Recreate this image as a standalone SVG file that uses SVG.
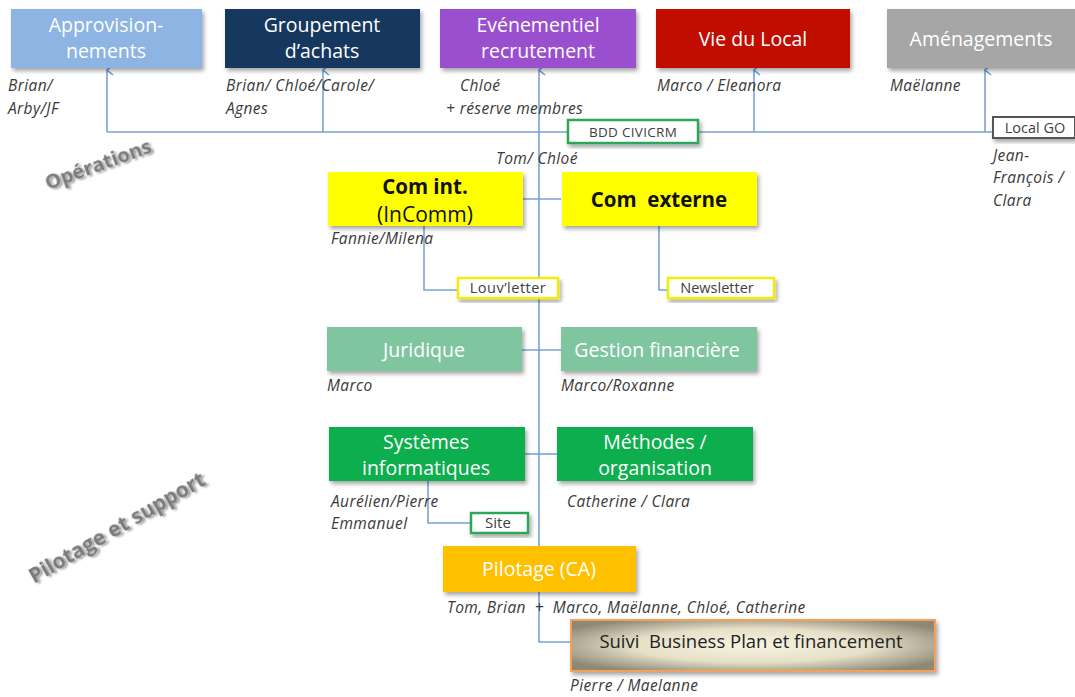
<svg xmlns="http://www.w3.org/2000/svg" width="1075" height="697" viewBox="0 0 1075 697">
<defs>
<filter id="sh" x="-10%" y="-10%" width="125%" height="135%">
<feGaussianBlur in="SourceAlpha" stdDeviation="2"/>
<feOffset dx="2" dy="3" result="b"/>
<feComponentTransfer><feFuncA type="linear" slope="0.35"/></feComponentTransfer>
<feMerge><feMergeNode/><feMergeNode in="SourceGraphic"/></feMerge>
</filter>
<filter id="tsh" x="-10%" y="-30%" width="130%" height="170%">
<feGaussianBlur in="SourceAlpha" stdDeviation="1.2"/>
<feOffset dx="1.5" dy="1.5"/>
<feComponentTransfer><feFuncA type="linear" slope="0.4"/></feComponentTransfer>
<feMerge><feMergeNode/><feMergeNode in="SourceGraphic"/></feMerge>
</filter>
<radialGradient id="gold" cx="50%" cy="50%" r="60%">
<stop offset="0" stop-color="#F8F4E2"/>
<stop offset="0.55" stop-color="#E6E0C8"/>
<stop offset="1" stop-color="#8E8876"/>
</radialGradient>
<marker id="arr" markerWidth="12" markerHeight="12" refX="6" refY="1" orient="auto-start-reverse" markerUnits="userSpaceOnUse" viewBox="0 0 12 12">
<path d="M1,7 L6,1 L11,7" fill="none" stroke="#6F9BD4" stroke-width="1.6"/>
</marker>
</defs>
<style>
.ln{fill:none;stroke:#7AA2D6;stroke-width:1.6}
.bt{font-family:"Open Sans","Liberation Sans",sans-serif;font-size:19.5px;fill:#fff;text-anchor:middle}
.lb{font-family:"Open Sans","Liberation Sans",sans-serif;font-size:15.5px;letter-spacing:0.4px;font-style:italic;fill:#3a3a3a}
.sm{font-family:"Open Sans","Liberation Sans",sans-serif;font-size:14.5px;fill:#404040;text-anchor:middle}
.bk{font-family:"Open Sans","Liberation Sans",sans-serif;font-size:20.5px;fill:#111;text-anchor:middle}
.sec{font-family:"Open Sans","Liberation Sans",sans-serif;font-size:20px;font-weight:bold;fill:#7a7a7a}
</style>
<rect width="1075" height="697" fill="#fff"/>

<g id="connectors">
<path class="ln" d="M107,132 H993"/>
<path class="ln" d="M107,132 V70" marker-end="url(#arr)"/>
<path class="ln" d="M323,132 V70" marker-end="url(#arr)"/>
<path class="ln" d="M754,132 V70" marker-end="url(#arr)"/>
<path class="ln" d="M985,132 V70" marker-end="url(#arr)"/>
<path class="ln" d="M571,642 H539 V70" marker-end="url(#arr)"/>
<path class="ln" d="M522,199 H561"/>
<path class="ln" d="M424,226 V290 H458"/>
<path class="ln" d="M659,226 V290 H668"/>
<path class="ln" d="M522,350 H561"/>
<path class="ln" d="M525,454 H557"/>
<path class="ln" d="M428,481 V523 H471"/>
</g>

<g id="approvisionnements">
<rect x="11" y="9" width="191" height="59" fill="#8DB4E2" filter="url(#sh)"/>
<text class="bt" x="106" y="32">Approvision-</text>
<text class="bt" x="106" y="58">nements</text>
<text class="lb" x="8" y="91">Brian/</text>
<text class="lb" x="8" y="114">Arby/JF</text>
</g>

<g id="groupement">
<rect x="225" y="9" width="195" height="59" fill="#17375E" filter="url(#sh)"/>
<text class="bt" x="322" y="32">Groupement</text>
<text class="bt" x="322" y="58">d’achats</text>
<text class="lb" x="226" y="91">Brian/ Chloé/Carole/</text>
<text class="lb" x="226" y="114">Agnes</text>
</g>

<g id="evenementiel">
<rect x="440" y="9" width="196" height="59" fill="#9A50CE" filter="url(#sh)"/>
<text class="bt" x="538" y="32">Evénementiel</text>
<text class="bt" x="538" y="58">recrutement</text>
<text class="lb" x="460" y="91">Chloé</text>
<text class="lb" x="446" y="114">+ réserve membres</text>
</g>

<g id="vie-du-local">
<rect x="656" y="9" width="194" height="59" fill="#C00F05" filter="url(#sh)"/>
<text class="bt" x="753" y="46">Vie du Local</text>
<text class="lb" x="657" y="91">Marco / Eleanora</text>
</g>

<g id="amenagements">
<rect x="887" y="9" width="190" height="59" fill="#A6A6A6" filter="url(#sh)"/>
<text class="bt" x="981" y="46">Aménagements</text>
<text class="lb" x="890" y="91">Maëlanne</text>
</g>

<g id="bdd-civicrm">
<rect x="568" y="120" width="130" height="23" fill="#fff" stroke="#2FA65A" stroke-width="2.5" filter="url(#sh)"/>
<text class="sm" x="633" y="137" style="font-size:13.5px;letter-spacing:0.3px">BDD CIVICRM</text>
</g>

<g id="local-go">
<rect x="993" y="117" width="82" height="21" fill="#fff" stroke="#555" stroke-width="2" filter="url(#sh)"/>
<text class="sm" x="1035" y="133">Local GO</text>
<text class="lb" x="993" y="161">Jean-</text>
<text class="lb" x="993" y="183">François /</text>
<text class="lb" x="993" y="206">Clara</text>
</g>

<text class="lb" x="496" y="164">Tom/ Chloé</text>

<g id="com-int">
<rect x="328" y="172" width="195" height="54" fill="#FFFF00" filter="url(#sh)"/>
<text class="bk" x="425" y="194" font-weight="bold">Com int.</text>
<text class="bk" x="425" y="222" style="font-size:21px">(InComm)</text>
<text class="lb" x="331" y="244">Fannie/Milena</text>
</g>

<g id="com-externe">
<rect x="562" y="172" width="195" height="54" fill="#FFFF00" filter="url(#sh)"/>
<text class="bk" x="659" y="207" font-weight="bold" xml:space="preserve">Com  externe</text>
</g>

<g id="louvletter">
<rect x="458" y="278" width="100" height="20" fill="#fff" stroke="#F2EC0A" stroke-width="2.5" filter="url(#sh)"/>
<text class="sm" x="508" y="293" style="letter-spacing:0.5px">Louv’letter</text>
</g>

<g id="newsletter">
<rect x="668" y="278" width="106" height="20" fill="#fff" stroke="#F2EC0A" stroke-width="2.5" filter="url(#sh)"/>
<text class="sm" x="717" y="293">Newsletter</text>
</g>

<g id="juridique">
<rect x="327" y="327" width="195" height="44" fill="#7FC6A0" filter="url(#sh)"/>
<text class="bt" x="424" y="357">Juridique</text>
<text class="lb" x="327" y="391">Marco</text>
</g>

<g id="gestion-financiere">
<rect x="561" y="327" width="196" height="44" fill="#7FC6A0" filter="url(#sh)"/>
<text class="bt" x="657" y="357">Gestion financière</text>
<text class="lb" x="561" y="391">Marco/Roxanne</text>
</g>

<g id="systemes-informatiques">
<rect x="329" y="427" width="196" height="54" fill="#08AE4E" filter="url(#sh)"/>
<text class="bt" x="426" y="449">Systèmes</text>
<text class="bt" x="426" y="475">informatiques</text>
<text class="lb" x="331" y="507">Aurélien/Pierre</text>
<text class="lb" x="331" y="529">Emmanuel</text>
</g>

<g id="methodes-organisation">
<rect x="557" y="427" width="196" height="54" fill="#08AE4E" filter="url(#sh)"/>
<text class="bt" x="655" y="449">Méthodes /</text>
<text class="bt" x="655" y="475">organisation</text>
<text class="lb" x="567" y="507">Catherine / Clara</text>
</g>

<g id="site">
<rect x="471" y="513" width="57" height="20" fill="#fff" stroke="#2FA65A" stroke-width="2.5" filter="url(#sh)"/>
<text class="sm" x="498" y="528" style="font-size:15px">Site</text>
</g>

<g id="pilotage">
<rect x="443" y="546" width="193" height="46" fill="#FFC000" filter="url(#sh)"/>
<text class="bt" x="539" y="576">Pilotage (CA)</text>
<text class="lb" x="447" y="613" xml:space="preserve">Tom, Brian  +  Marco, Maëlanne, Chloé, Catherine</text>
</g>

<g id="suivi-business-plan">
<rect x="571" y="620" width="364" height="51" fill="url(#gold)" stroke="#F5A15A" stroke-width="2" filter="url(#sh)"/>
<text class="bk" x="751" y="648" style="font-size:18.5px;fill:#222" xml:space="preserve">Suivi  Business Plan et financement</text>
<text class="lb" x="570" y="691">Pierre / Maelanne</text>
</g>

<text class="sec" transform="translate(48,190) rotate(-20)" filter="url(#tsh)">Opérations</text>
<text class="sec" transform="translate(34,584) rotate(-30)" filter="url(#tsh)" style="font-size:21px">Pilotage et support</text>
</svg>
